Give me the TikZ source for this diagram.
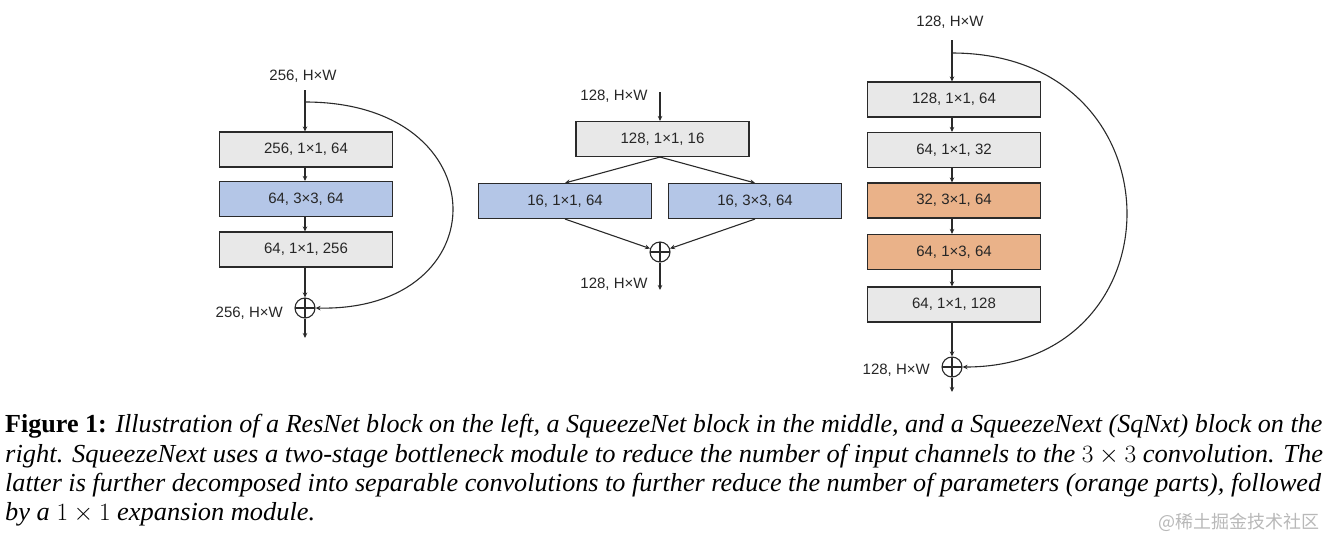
\documentclass[tikz,border=0pt]{standalone}
\usepackage{fontspec}
\usepackage{graphicx}
\setmainfont{Liberation Serif}
\newfontfamily\arialf{Liberation Sans}
\newfontfamily\cjkf{Noto Sans CJK SC}
\usetikzlibrary{arrows.meta}
\definecolor{boxgray}{HTML}{E8E8E8}
\definecolor{boxblue}{HTML}{B4C6E7}
\definecolor{boxorange}{HTML}{EAB289}
\definecolor{edge}{HTML}{2A2A2A}
\tikzset{
  lbl/.style={font=\arialf\fontsize{15}{18}\selectfont, text=black!85, inner sep=0pt},
  blk/.style={draw=edge, line width=1.1pt, minimum width=173pt, minimum height=35pt, inner sep=0pt,
              font=\arialf\fontsize{15}{18}\selectfont, text=black!85},
  gblk/.style={blk, fill=boxgray},
  bblk/.style={blk, fill=boxblue},
  oblk/.style={blk, fill=boxorange},
  plus/.style={draw=edge, line width=1.1pt, circle, minimum size=20pt, inner sep=0pt,
               path picture={\draw[edge, line width=1.1pt] (path picture bounding box.north) -- (path picture bounding box.south)
                 (path picture bounding box.west) -- (path picture bounding box.east);}},
  conn/.style={draw=edge, line width=1.1pt, -{Stealth[length=5pt,width=4.5pt]}},
  capline/.style={anchor=base west, inner sep=0pt, font=\fontsize{26}{30}\selectfont}
}
\begin{document}
\begin{tikzpicture}[x=1pt,y=-1pt]
\useasboundingbox (0,0) rectangle (1338,542);

% ---------- ResNet block ----------
\node[lbl] (Lin) at (303,76) {256, H×W};
\coordinate (Lstart) at (305,90);
\coordinate (Ltap) at (305,102);
\node[gblk] (L1) at (306,149.5) {256, 1×1, 64};
\node[bblk] (L2) at (306,199) {64, 3×3, 64};
\node[gblk] (L3) at (306,249.5) {64, 1×1, 256};
\node[plus] (Lp) at (305,308) {};
\coordinate (Lend) at (305,338);
\node[lbl, anchor=east] (Lout) at (283,313) {256, H×W};
\draw[conn] (Lstart) -- (Lstart |- L1.north);
\draw[conn] (L1.south -| Lstart) -- (L2.north -| Lstart);
\draw[conn] (L2.south -| Lstart) -- (L3.north -| Lstart);
\draw[conn] (L3.south -| Lstart) -- (Lp.north);
\draw[conn] (Lp.south) -- (Lend);
\draw[conn] (Ltap) .. controls (500,102) and (500,312) .. (Lp.east);

% ---------- SqueezeNet block ----------
\node[lbl] (Min) at (614,96) {128, H×W};
\coordinate (Mstart) at (660,92);
\node[gblk] (M1) at (662.5,139) {128, 1×1, 16};
\node[bblk] (Ma) at (565,201) {16, 1×1, 64};
\node[bblk] (Mb) at (755,201) {16, 3×3, 64};
\node[plus] (Mp) at (660,252) {};
\coordinate (Mend) at (660,290);
\node[lbl] (Mout) at (614,284) {128, H×W};
\draw[conn] (Mstart) -- (Mstart |- M1.north);
\draw[conn] (M1.south -| Mstart) -- (Ma.north);
\draw[conn] (M1.south -| Mstart) -- (Mb.north);
\draw[conn] (Ma.south) -- (Mp);
\draw[conn] (Mb.south) -- (Mp);
\draw[conn] (Mp.south) -- (Mend);

% ---------- SqueezeNext block ----------
\node[lbl] (Rin) at (950,22) {128, H×W};
\coordinate (Rstart) at (952,40);
\coordinate (Rtap) at (952,53);
\node[gblk] (R1) at (954,99.5) {128, 1×1, 64};
\node[gblk] (R2) at (954,150) {64, 1×1, 32};
\node[oblk] (R3) at (954,200.5) {32, 3×1, 64};
\node[oblk] (R4) at (954,252) {64, 1×3, 64};
\node[gblk] (R5) at (954,304.5) {64, 1×1, 128};
\node[plus] (Rp) at (952,367) {};
\coordinate (Rend) at (952,392);
\node[lbl, anchor=east] (Rout) at (930,370) {128, H×W};
\draw[conn] (Rstart) -- (Rstart |- R1.north);
\draw[conn] (R1.south -| Rstart) -- (R2.north -| Rstart);
\draw[conn] (R2.south -| Rstart) -- (R3.north -| Rstart);
\draw[conn] (R3.south -| Rstart) -- (R4.north -| Rstart);
\draw[conn] (R4.south -| Rstart) -- (R5.north -| Rstart);
\draw[conn] (R5.south -| Rstart) -- (Rp.north);
\draw[conn] (Rp.south) -- (Rend);
\draw[conn] (Rtap) .. controls (1183,53) and (1183,367) .. (Rp.east);

% ---------- caption ----------
\node[capline] (c1) at (5,432) {\resizebox{1317pt}{\height}{\textbf{Figure 1:} \textit{Illustration of a ResNet block on the left, a SqueezeNet block in the middle, and a SqueezeNext (SqNxt) block on the}}};
\node[capline] (c2) at (5,462) {\resizebox{1318pt}{\height}{\textit{right. SqueezeNext uses a two-stage bottleneck module to reduce the number of input channels to the} $3\times3$ \textit{convolution. The}}};
\node[capline] (c3) at (5,491) {\resizebox{1316pt}{\height}{\textit{latter is further decomposed into separable convolutions to further reduce the number of parameters (orange parts), followed}}};
\node[capline] (c4) at (5,520) {\resizebox{310pt}{\height}{\textit{by a} $1\times1$ \textit{expansion module.}}};
\node[anchor=east, inner sep=0pt, text=black!28, font=\cjkf\fontsize{18}{20}\selectfont] (wm) at (1320,522) {@稀土掘金技术社区};
\end{tikzpicture}
\end{document}
